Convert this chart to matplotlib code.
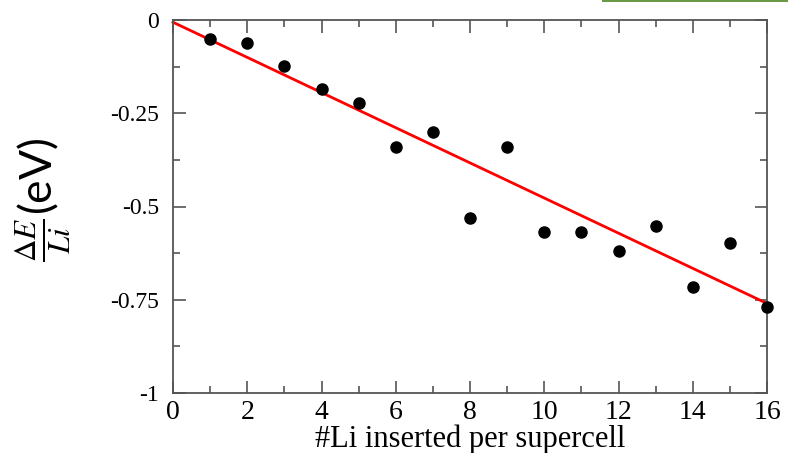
import matplotlib
matplotlib.use("Agg")
import matplotlib.pyplot as plt
from matplotlib.ticker import MultipleLocator
from matplotlib.patches import Rectangle

# Number of Li atoms inserted per supercell and the energy change per Li (eV)
n_li = [1, 2, 3, 4, 5, 6, 7, 8, 9, 10, 11, 12, 13, 14, 15, 16]
de_per_li = [-0.051, -0.062, -0.123, -0.186, -0.223, -0.341, -0.300, -0.532,
             -0.341, -0.569, -0.569, -0.620, -0.552, -0.717, -0.599, -0.770]

# Linear trend line endpoints
fit_x = [0, 16]
fit_y = [-0.006, -0.760]

x_ticks = [0, 2, 4, 6, 8, 10, 12, 14, 16]
y_ticks = [0, -0.25, -0.5, -0.75, -1]
y_tick_labels = ["0", "-0.25", "-0.5", "-0.75", "-1"]

plt.rcParams["mathtext.fontset"] = "stix"

fig = plt.figure(figsize=(7.88, 4.53), dpi=100)
ax = fig.add_axes([173 / 788, 60 / 453, 594 / 788, 373 / 453])

ax.plot(fit_x, fit_y, color="#ff0000", lw=2.0, zorder=2, clip_on=False)
ax.plot(n_li, de_per_li, "o", color="black", ms=8, zorder=3, clip_on=False)

ax.set_xlim(0, 16)
ax.set_ylim(-1, 0)
ax.set_xticks(x_ticks)
ax.set_yticks(y_ticks)
ax.set_yticklabels(y_tick_labels)
ax.xaxis.set_minor_locator(MultipleLocator(1))
ax.yaxis.set_minor_locator(MultipleLocator(0.125))

spine_col = "#555555"
for s in ax.spines.values():
    s.set_color(spine_col)
    s.set_linewidth(1.3)

ax.tick_params(which="both", direction="in", top=True, right=True,
               color=spine_col, width=1.2)
ax.tick_params(which="major", length=9)
ax.tick_params(which="minor", length=5)
ax.tick_params(axis="x", which="major", pad=5)
ax.tick_params(axis="y", which="major", pad=10)

serif = "Liberation Serif"
for lab in ax.get_xticklabels():
    lab.set_fontfamily(serif)
    lab.set_fontsize(20)
for lab in ax.get_yticklabels():
    lab.set_fontfamily(serif)
    lab.set_fontsize(17)

ax.set_xlabel("#Li inserted per supercell", fontfamily=serif, fontsize=22,
              labelpad=0)
ax.set_ylabel(r"$\frac{\Delta E}{Li}$(eV)", fontfamily="Lato", fontsize=32)
ax.yaxis.set_label_coords(-0.168, 0.517)

# thin green bar along the top edge
fig.add_artist(Rectangle((602 / 788, 451.5 / 453), 186 / 788, 1.5 / 453,
                         transform=fig.transFigure, color="#6a9a48", lw=0))

fig.savefig("out.png", dpi=100)
